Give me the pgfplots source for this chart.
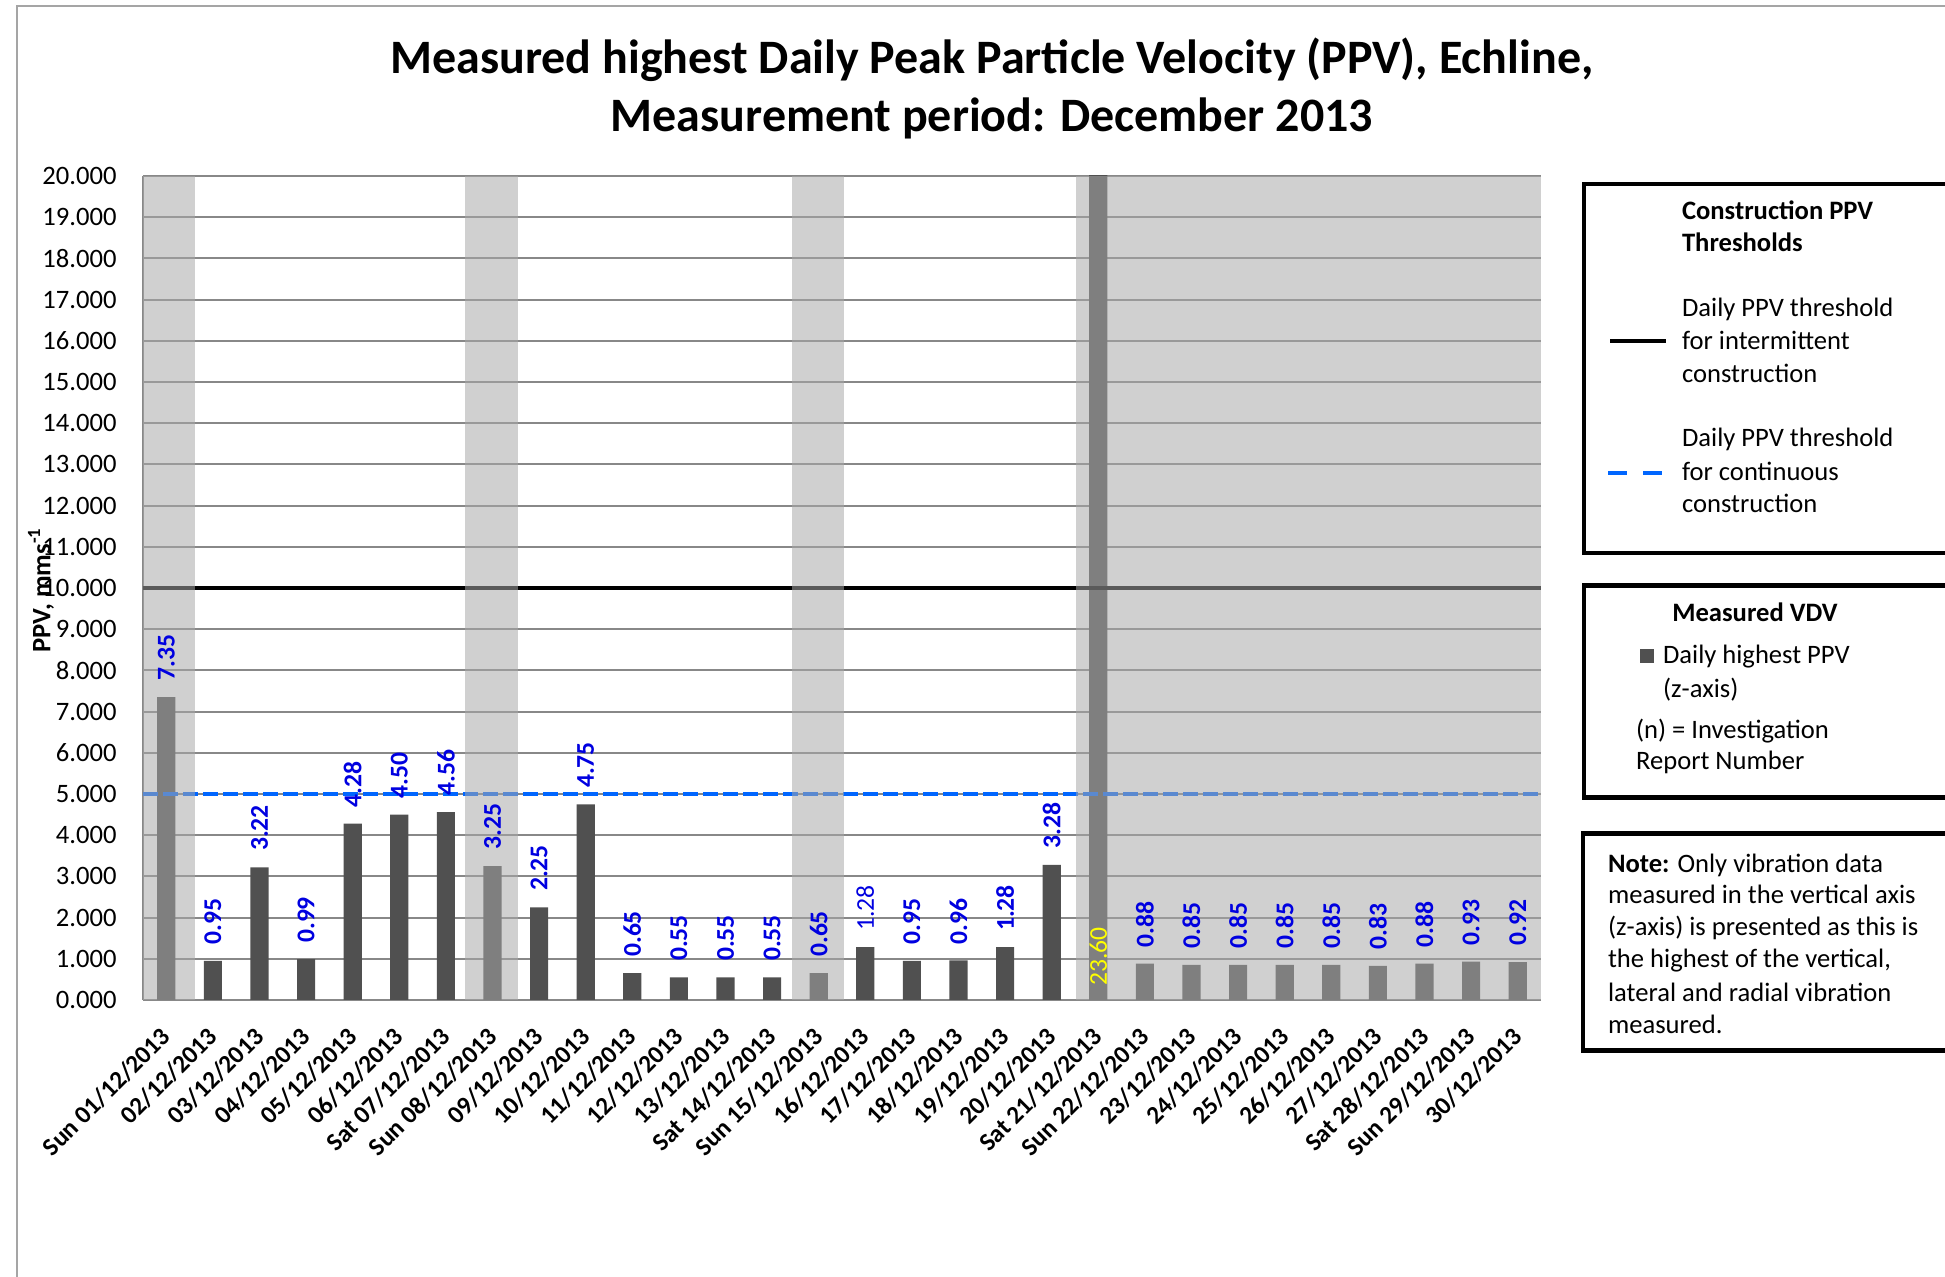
\documentclass[border=0pt]{standalone}
\usepackage{fontspec}
\setmainfont{Carlito}
\usepackage{pgfplots}
\pgfplotsset{compat=1.18}
\usepackage{pgfplotstable}

\definecolor{bardark}{RGB}{80,80,80}
\definecolor{lblblue}{RGB}{0,0,224}
\definecolor{lblyellow}{RGB}{255,255,0}
\definecolor{shade}{RGB}{168,168,168}
\definecolor{gridgray}{RGB}{136,136,136}
\definecolor{thrblue}{RGB}{0,102,255}
\definecolor{framegray}{RGB}{165,165,165}

\pgfplotstableread{
x y
0 7.35
1 0.95
2 3.22
3 0.99
4 4.28
5 4.50
6 4.56
7 3.25
8 2.25
9 4.75
10 0.65
11 0.55
12 0.55
13 0.55
14 0.65
15 1.28
16 0.95
17 0.96
18 1.28
19 3.28
20 23.60
21 0.88
22 0.85
23 0.85
24 0.85
25 0.85
26 0.83
27 0.88
28 0.93
29 0.92
}\bars

\pgfplotstableread{
x y lab
0 7.35 7.35
1 0.95 0.95
2 3.22 3.22
3 0.99 0.99
4 4.28 4.28
5 4.50 4.50
6 4.56 4.56
7 3.25 3.25
8 2.25 2.25
9 4.75 4.75
10 0.65 0.65
11 0.55 0.55
12 0.55 0.55
13 0.55 0.55
14 0.65 0.65
16 0.95 0.95
17 0.96 0.96
18 1.28 1.28
19 3.28 3.28
21 0.88 0.88
22 0.85 0.85
23 0.85 0.85
24 0.85 0.85
25 0.85 0.85
26 0.83 0.83
27 0.88 0.88
28 0.93 0.93
29 0.92 0.92
}\lblbold

\begin{document}
\begin{tikzpicture}
\path[use as bounding box] (0,0) rectangle (972.5pt,638.5pt);
% frame
\draw[framegray, line width=1pt] (8.5pt,-5pt) -- (8.5pt,635.5pt) -- (990pt,635.5pt);
% title
\node[font=\bfseries\fontsize{24}{29}\selectfont] at (496pt,608.5pt) {Measured highest Daily Peak Particle Velocity (PPV), Echline,};
\node[font=\bfseries\fontsize{24}{29}\selectfont] at (496pt,579.5pt) {Measurement period: December 2013};
% y label
\node[font=\bfseries\fontsize{13.3}{15}\selectfont, rotate=90] at (20.5pt,343.5pt) {PPV, mms\textsuperscript{-1}};

\begin{axis}[
  at={(71.5pt,138.5pt)}, anchor=south west,
  width=699pt, height=412pt, scale only axis,
  xmin=-0.5, xmax=29.5, ymin=0, ymax=20,
  xtick={0,...,29},
  xticklabels={Sun 01/12/2013,02/12/2013,03/12/2013,04/12/2013,05/12/2013,06/12/2013,Sat 07/12/2013,Sun 08/12/2013,09/12/2013,10/12/2013,11/12/2013,12/12/2013,13/12/2013,Sat 14/12/2013,Sun 15/12/2013,16/12/2013,17/12/2013,18/12/2013,19/12/2013,20/12/2013,Sat 21/12/2013,Sun 22/12/2013,23/12/2013,24/12/2013,25/12/2013,26/12/2013,27/12/2013,Sat 28/12/2013,Sun 29/12/2013,30/12/2013},
  ytick={0,1,...,20},
  ymajorgrids, major grid style={gridgray, line width=1pt},
  axis x line*=bottom, axis y line*=left,
  axis line style={gridgray, line width=1.2pt, -},
  major tick length=0pt,
  /pgf/number format/assume math mode=true,
  yticklabel style={font=\fontsize{13.3}{15}\selectfont, anchor=east, inner sep=0pt, xshift=-13pt,
     /pgf/number format/.cd, fixed, fixed zerofill, precision=3},
  xticklabel style={font=\bfseries\fontsize{12.6}{14}\selectfont, inner sep=0pt, yshift=-16pt, rotate=45, anchor=east},
  no markers,
]
% bars
\addplot[ybar, bar width=0.39, fill=bardark, draw=none] table[x=x,y=y]{\bars};
% thresholds
\addplot[black, line width=2pt] coordinates {(-0.5,10) (29.5,10)};
\addplot[thrblue, line width=2pt, dash pattern=on 7.5pt off 2.5pt] coordinates {(-0.5,5) (29.5,5)};
% labels
\addplot[draw=none, nodes near coords, point meta=explicit symbolic,
  nodes near coords style={font=\bfseries\fontsize{12.8}{14}\selectfont, text=lblblue, rotate=90, anchor=west, inner xsep=8pt, inner ysep=0pt}]
  table[x=x,y=y,meta=lab]{\lblbold};
\addplot[draw=none, nodes near coords, point meta=explicit symbolic,
  nodes near coords style={font=\fontsize{12.8}{14}\selectfont, text=lblblue, rotate=90, anchor=west, inner xsep=8pt, inner ysep=0pt}]
  coordinates {(15,1.28) [1.28]};
\addplot[draw=none, nodes near coords, point meta=explicit symbolic,
  nodes near coords style={font=\fontsize{12.8}{14}\selectfont, text=lblyellow, rotate=90, anchor=west, inner xsep=7pt, inner ysep=0pt}]
  coordinates {(20,0) [23.60]};
% weekend shading overlays
\addplot[draw=none, fill=shade, fill opacity=0.537] coordinates {(-0.5,0) (0.62,0) (0.62,20) (-0.5,20)} -- cycle;
\addplot[draw=none, fill=shade, fill opacity=0.537] coordinates {(6.42,0) (7.54,0) (7.54,20) (6.42,20)} -- cycle;
\addplot[draw=none, fill=shade, fill opacity=0.537] coordinates {(13.42,0) (14.54,0) (14.54,20) (13.42,20)} -- cycle;
\addplot[draw=none, fill=shade, fill opacity=0.537] coordinates {(19.52,0) (29.5,0) (29.5,20) (19.52,20)} -- cycle;
\end{axis}

% legend box 1
\draw[black, line width=2.25pt] (792pt,546.5pt) rectangle (1000pt,362pt);
\node[font=\bfseries\fontsize{13.3}{15}\selectfont, anchor=base west] at (837.5pt,528.5pt) {Construction PPV};
\node[font=\bfseries\fontsize{13.3}{15}\selectfont, anchor=base west] at (837.5pt,512.5pt) {Thresholds};
\draw[black, line width=2pt] (805pt,468pt) -- (833pt,468pt);
\node[font=\fontsize{13.3}{15}\selectfont, anchor=base west] at (837.5pt,480pt) {Daily PPV threshold};
\node[font=\fontsize{13.3}{15}\selectfont, anchor=base west] at (837.5pt,463.5pt) {for intermittent};
\node[font=\fontsize{13.3}{15}\selectfont, anchor=base west] at (837.5pt,447pt) {construction};
\draw[thrblue, line width=2pt] (804pt,402pt) -- (813.5pt,402pt);
\draw[thrblue, line width=2pt] (821.5pt,402pt) -- (831pt,402pt);
\node[font=\fontsize{13.3}{15}\selectfont, anchor=base west] at (837.5pt,415pt) {Daily PPV threshold};
\node[font=\fontsize{13.3}{15}\selectfont, anchor=base west] at (837.5pt,398pt) {for continuous};
\node[font=\fontsize{13.3}{15}\selectfont, anchor=base west] at (837.5pt,382pt) {construction};
% legend box 2
\draw[black, line width=2.25pt] (792pt,345.75pt) rectangle (1000pt,239.7pt);
\node[font=\bfseries\fontsize{13.3}{15}\selectfont, anchor=base] at (877.5pt,327.5pt) {Measured VDV};
\fill[bardark] (820pt,307pt) rectangle (827pt,314pt);
\node[font=\fontsize{13.3}{15}\selectfont, anchor=base west] at (828pt,306.5pt) {Daily highest PPV};
\node[font=\fontsize{13.3}{15}\selectfont, anchor=base west] at (828pt,289.5pt) {(z-axis)};
\node[font=\fontsize{13.3}{15}\selectfont, anchor=base west] at (814.5pt,269pt) {(n) = Investigation};
\node[font=\fontsize{13.3}{15}\selectfont, anchor=base west] at (814.5pt,253.5pt) {Report Number};
% legend box 3
\draw[black, line width=2.25pt] (791.5pt,221.75pt) rectangle (1000pt,113.2pt);
\node[font=\fontsize{13.3}{15}\selectfont, anchor=base west] at (800.5pt,202.25pt) {\textbf{Note:} Only vibration data};
\node[font=\fontsize{13.3}{15}\selectfont, anchor=base west] at (800.5pt,186.75pt) {measured in the vertical axis};
\node[font=\fontsize{13.3}{15}\selectfont, anchor=base west] at (800.5pt,170.5pt) {(z-axis) is presented as this is};
\node[font=\fontsize{13.3}{15}\selectfont, anchor=base west] at (800.5pt,154.5pt) {the highest of the vertical,};
\node[font=\fontsize{13.3}{15}\selectfont, anchor=base west] at (800.5pt,137.75pt) {lateral and radial vibration};
\node[font=\fontsize{13.3}{15}\selectfont, anchor=base west] at (800.5pt,121.5pt) {measured.};
\end{tikzpicture}
\end{document}
